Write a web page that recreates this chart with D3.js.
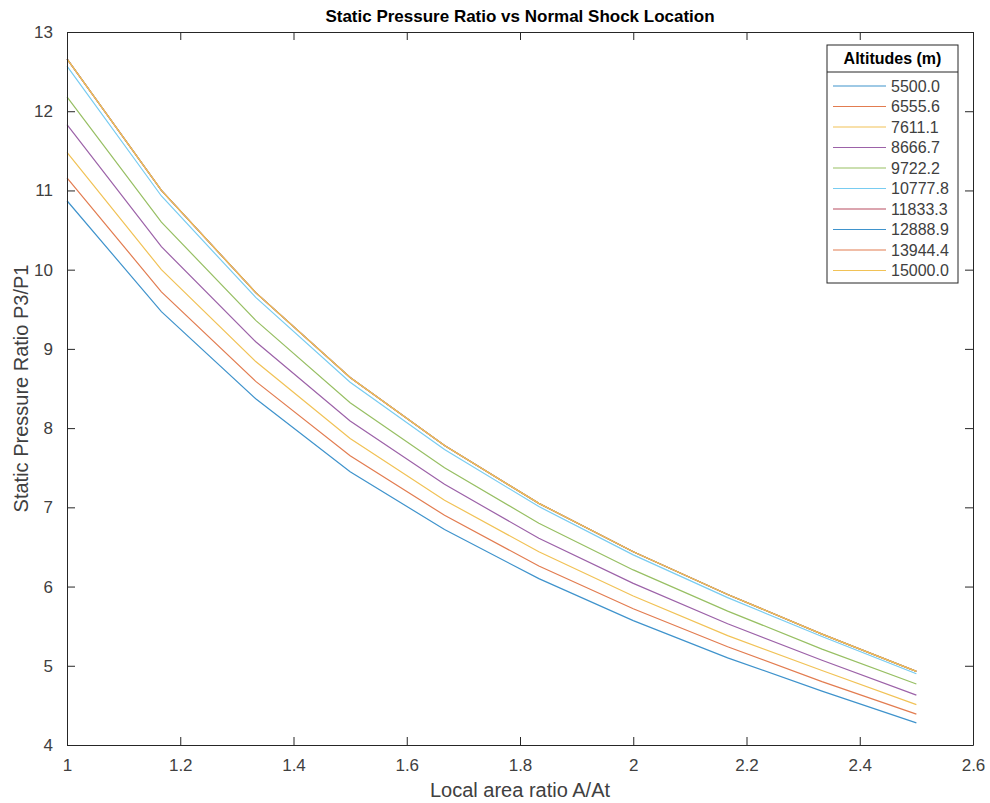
<!DOCTYPE html>
<html>
<head>
<meta charset="utf-8">
<script src="https://cdn.jsdelivr.net/npm/d3@7"></script>
<style>
  body { margin: 0; background: #fff; }
  text { font-family: Arial, "Liberation Sans", sans-serif; }
</style>
</head>
<body>
<div id="chart"></div>
<script>
// area ratio points
const areaRatio = [1, 1.1667, 1.3333, 1.5, 1.6667, 1.8333, 2, 2.1667, 2.3333, 2.5];

// altitudes (m) used as legend labels
const altitudes = ["5500.0", "6555.6", "7611.1", "8666.7", "9722.2", "10777.8", "11833.3", "12888.9", "13944.4", "15000.0"];

// P3/P1 per altitude
const p5500  = [10.87, 9.47, 8.37, 7.45, 6.72, 6.10, 5.57, 5.10, 4.68, 4.28];
const p6556  = [11.16, 9.72, 8.59, 7.65, 6.90, 6.26, 5.72, 5.24, 4.80, 4.39];
const p7611  = [11.48, 10.00, 8.84, 7.87, 7.09, 6.44, 5.88, 5.38, 4.94, 4.51];
const p8667  = [11.83, 10.29, 9.09, 8.09, 7.29, 6.61, 6.04, 5.53, 5.07, 4.63];
const p9722  = [12.18, 10.60, 9.36, 8.32, 7.50, 6.80, 6.21, 5.69, 5.21, 4.77];
const p10778 = [12.57, 10.93, 9.65, 8.58, 7.73, 7.01, 6.40, 5.86, 5.37, 4.90];
const p11833 = [12.66, 11.00, 9.71, 8.64, 7.78, 7.05, 6.44, 5.90, 5.40, 4.93];
const p12889 = [12.66, 11.00, 9.71, 8.64, 7.78, 7.05, 6.44, 5.90, 5.40, 4.93];
const p13944 = [12.66, 11.00, 9.71, 8.64, 7.78, 7.05, 6.44, 5.90, 5.40, 4.93];
const p15000 = [12.66, 11.00, 9.71, 8.64, 7.78, 7.05, 6.44, 5.90, 5.40, 4.93];

const xTicks = [1, 1.2, 1.4, 1.6, 1.8, 2, 2.2, 2.4, 2.6];
const yTicks = [4, 5, 6, 7, 8, 9, 10, 11, 12, 13];

const seriesValues = [p5500, p6556, p7611, p8667, p9722, p10778, p11833, p12889, p13944, p15000];
// MATLABの既定色を少し明るくしたもの
const colors = ["#3f93cc", "#e27c50", "#f1c256", "#9c62a8", "#97bf63", "#78ccf1", "#b84d61", "#3f93cc", "#e27c50", "#f1c256"];

const W = 990, H = 803;
const margin = { top: 32, right: 17, bottom: 58, left: 67 };
const width = W - margin.left - margin.right;
const height = H - margin.top - margin.bottom;
const axisColor = "#262626";
const textColor = "#404040";

const svg = d3.select("#chart").append("svg")
    .attr("width", W).attr("height", H);

const g = svg.append("g")
    .attr("transform", `translate(${margin.left},${margin.top})`);

const x = d3.scaleLinear().domain([1, 2.6]).range([0, width]);
const y = d3.scaleLinear().domain([4, 13]).range([height, 0]);

// 線
const line = d3.line()
    .x((d, i) => x(areaRatio[i]))
    .y(d => y(d));

g.selectAll("path.series")
    .data(seriesValues)
    .enter()
    .append("path")
    .attr("class", "series")
    .attr("d", d => line(d))
    .attr("fill", "none")
    .attr("stroke", (d, i) => colors[i])
    .attr("stroke-width", 1.2);

// 軸 (MATLAB風: 内向きの目盛り、ボックス)
const fmt = d => String(d);
const styleAxis = sel => {
    sel.select(".domain").attr("stroke", axisColor);
    sel.selectAll(".tick line").attr("stroke", axisColor);
    sel.selectAll(".tick text").attr("fill", textColor).style("font-size", "17px");
};

g.append("g")
    .attr("transform", `translate(0,${height})`)
    .call(d3.axisBottom(x).tickValues(xTicks).tickFormat(fmt).tickSizeInner(-8).tickSizeOuter(0).tickPadding(14))
    .call(styleAxis);

g.append("g")
    .call(d3.axisTop(x).tickValues(xTicks).tickFormat("").tickSizeInner(-8).tickSizeOuter(0))
    .call(styleAxis);

g.append("g")
    .call(d3.axisLeft(y).tickValues(yTicks).tickFormat(fmt).tickSizeInner(-8).tickSizeOuter(0).tickPadding(14))
    .call(styleAxis);

g.append("g")
    .attr("transform", `translate(${width},0)`)
    .call(d3.axisRight(y).tickValues(yTicks).tickFormat("").tickSizeInner(-8).tickSizeOuter(0))
    .call(styleAxis);

// タイトルとラベル
svg.append("text")
    .attr("x", margin.left + width / 2)
    .attr("y", 22)
    .attr("text-anchor", "middle")
    .style("font-size", "17px")
    .style("font-weight", "bold")
    .attr("fill", "#000")
    .text("Static Pressure Ratio vs Normal Shock Location");

svg.append("text")
    .attr("x", margin.left + width / 2)
    .attr("y", 797)
    .attr("text-anchor", "middle")
    .style("font-size", "20px")
    .attr("fill", textColor)
    .text("Local area ratio A/At");

svg.append("text")
    .attr("transform", `translate(28,${margin.top + height / 2}) rotate(-90)`)
    .attr("text-anchor", "middle")
    .style("font-size", "20px")
    .attr("fill", textColor)
    .text("Static Pressure Ratio P3/P1");

// 凡例
const lx = 827, ly = 45, lw = 131, headH = 27, rowH = 20.5;
const legend = svg.append("g");

legend.append("rect")
    .attr("x", lx).attr("y", ly)
    .attr("width", lw).attr("height", headH + altitudes.length * rowH + 6)
    .attr("fill", "#fff").attr("stroke", axisColor).attr("stroke-width", 1);

legend.append("line")
    .attr("x1", lx).attr("x2", lx + lw)
    .attr("y1", ly + headH).attr("y2", ly + headH)
    .attr("stroke", axisColor);

legend.append("text")
    .attr("x", lx + lw / 2).attr("y", ly + 19)
    .attr("text-anchor", "middle")
    .style("font-size", "16px").style("font-weight", "bold")
    .attr("fill", "#000")
    .text("Altitudes (m)");

const rows = legend.selectAll("g.row")
    .data(altitudes)
    .enter()
    .append("g")
    .attr("class", "row")
    .attr("transform", (d, i) => `translate(${lx},${ly + headH + 14 + i * rowH})`);

rows.append("line")
    .attr("x1", 6).attr("x2", 59)
    .attr("stroke", (d, i) => colors[i])
    .attr("stroke-width", 1.2);

rows.append("text")
    .attr("x", 64).attr("y", 0)
    .attr("dy", "0.35em")
    .style("font-size", "16px")
    .attr("fill", textColor)
    .text(d => d);
</script>
</body>
</html>
